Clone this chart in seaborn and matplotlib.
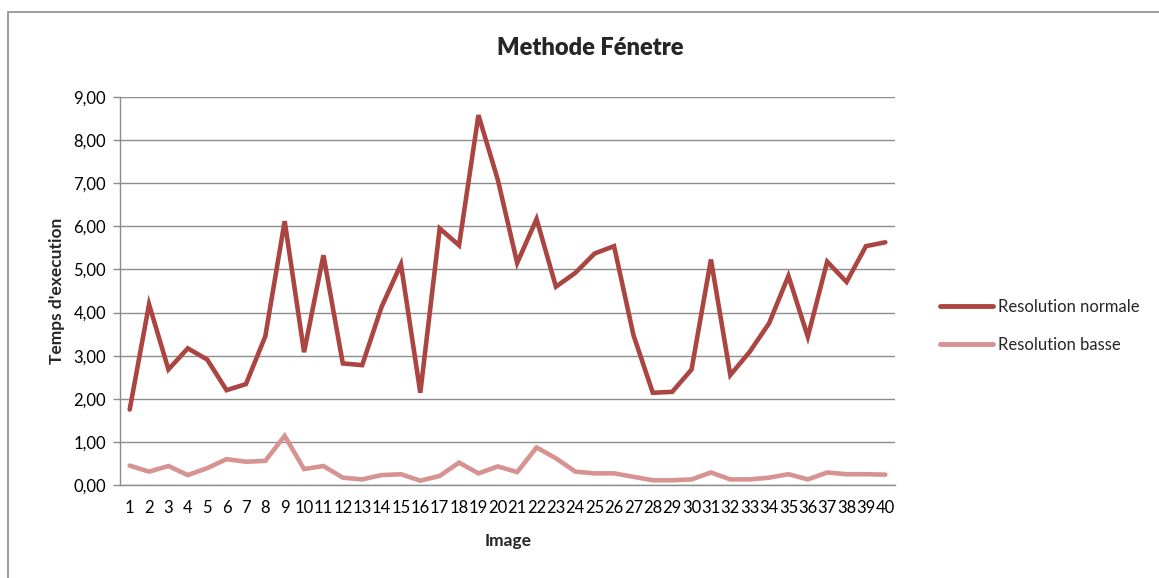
import matplotlib
matplotlib.use("Agg")
import matplotlib.pyplot as plt
import matplotlib.ticker as mticker
from matplotlib.patches import Rectangle
import seaborn as sns
import pandas as pd
import numpy as np

images = [str(i) for i in range(1, 41)]
resolution_normale = [1.75, 4.19, 2.68, 3.17, 2.91, 2.20, 2.34, 3.45, 6.12, 3.08,
                      5.33, 2.82, 2.78, 4.13, 5.12, 2.14, 5.95, 5.56, 8.58, 7.08,
                      5.15, 6.17, 4.60, 4.92, 5.37, 5.54, 3.48, 2.14, 2.16, 2.68,
                      5.23, 2.55, 3.09, 3.75, 4.85, 3.44, 5.18, 4.71, 5.54, 5.63]
resolution_basse = [0.45, 0.31, 0.44, 0.23, 0.39, 0.60, 0.54, 0.56, 1.14, 0.37,
                    0.44, 0.17, 0.13, 0.23, 0.25, 0.10, 0.21, 0.52, 0.27, 0.43,
                    0.30, 0.87, 0.62, 0.31, 0.27, 0.27, 0.19, 0.11, 0.11, 0.13,
                    0.29, 0.13, 0.13, 0.17, 0.25, 0.13, 0.29, 0.25, 0.25, 0.24]
series_names = ["Resolution normale", "Resolution basse"]
colors = ["#AB4542", "#D69392"]
title = "Methode Fénetre"
xlabel = "Image"
ylabel = "Temps d'execution"

df = pd.DataFrame({
    "Image": list(range(len(images))) * 2,
    "Temps": resolution_normale + resolution_basse,
    "Serie": [series_names[0]] * len(images) + [series_names[1]] * len(images),
})

sns.set_theme(style="white")
plt.rcParams["font.family"] = ["Lato", "DejaVu Sans"]

fig = plt.figure(figsize=(11.59, 5.78), dpi=100)
ax = fig.add_axes([120 / 1159, 1 - 485 / 578, (895 - 120) / 1159, (485 - 97) / 578])

sns.lineplot(data=df, x="Image", y="Temps", hue="Serie", hue_order=series_names,
             palette=colors, linewidth=3.3, ax=ax, legend=True,
             solid_capstyle="round", solid_joinstyle="miter")

ax.set_xlim(-0.5, len(images) - 0.5)
ax.set_ylim(0, 9)
ax.set_yticks(np.arange(0, 10, 1))
ax.yaxis.set_major_formatter(mticker.FuncFormatter(lambda v, p: f"{v:.2f}".replace(".", ",")))
ax.set_xticks(range(len(images)))
ax.set_xticklabels(images)
ax.set_xticks(np.arange(-0.5, len(images), 1), minor=True)
ax.tick_params(axis="x", which="major", length=0, pad=11, labelsize=12, colors="black")
ax.tick_params(axis="x", which="minor", length=5, width=1, color="#8C8C8C", direction="out")
ax.tick_params(axis="y", which="major", length=5, width=1, color="#8C8C8C", direction="out",
               pad=5, labelsize=12, labelcolor="black", left=True)
ax.grid(axis="y", color="#8C8C8C", linewidth=1)
ax.set_axisbelow(True)
for s in ["top", "right"]:
    ax.spines[s].set_visible(False)
ax.spines["left"].set_color("#8C8C8C")
ax.spines["bottom"].set_color("#8C8C8C")
ax.spines["left"].set_linewidth(1)
ax.spines["bottom"].set_linewidth(1)

ax.set_xlabel(xlabel, fontsize=12.5, fontweight="bold", va="center")
ax.xaxis.set_label_coords((508 - 120) / 775, -(541 - 485) / 388)
ax.set_ylabel(ylabel, fontsize=12.5, fontweight="bold", va="center")
ax.yaxis.set_label_coords((57 - 120) / 775, (485 - 291) / 388)
fig.text(590 / 1159, 1 - 48 / 578, title, fontsize=17, fontweight="heavy", ha="center", va="center")

leg = ax.legend(loc="center left", bbox_to_anchor=(925 / 1159, 1 - 326 / 578),
                bbox_transform=fig.transFigure, frameon=False, fontsize=12,
                handlelength=3.2, handletextpad=0.3, labelspacing=1.3)
for line in leg.get_lines():
    line.set_linewidth(3.5)

fig.patches.append(Rectangle((8 / 1159, -0.05), 1.2, 1 - 11.5 / 578 + 0.05, transform=fig.transFigure,
                             fill=False, edgecolor="#8C8C8C", linewidth=1.2))

fig.savefig("out.png", dpi=100)
